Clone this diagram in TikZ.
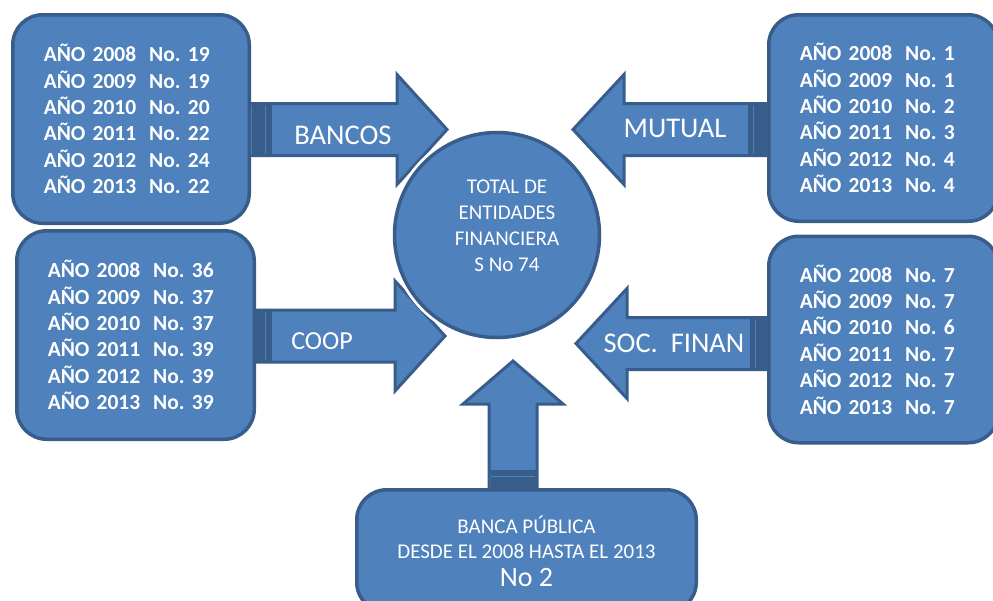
\documentclass[tikz,border=0pt]{standalone}
\usepackage{fontspec}
\setmainfont{Carlito}
\usetikzlibrary{positioning}
\frenchspacing

\definecolor{boxfill}{HTML}{4F81BD}
\definecolor{boxline}{HTML}{385D8A}

% one line of a year box
\newcommand{\fila}[2]{\hspace*{11pt}AÑO #1\hspace{13pt}No. #2}
% horizontal block arrow: start x, head base x, tip x, middle y
\newcommand{\harrow}[4]{%
  \draw [blockarrow] (#1,#4-26) -- (#2,#4-26) -- (#2,#4-55) -- (#3,#4)
    -- (#2,#4+55) -- (#2,#4+26) -- (#1,#4+26) -- cycle;}
% dark band at the foot of a horizontal arrow: x from, x to, light line x, middle y
\newcommand{\hband}[4]{%
  \fill [boxline] (#1,#4-26) rectangle (#2,#4+26);
  \draw [boxfill, line width=0.8pt] (#3,#4-24) -- (#3,#4+24);}

\begin{document}
\begin{tikzpicture}[x=1pt, y=-1pt, line join=miter,
    databox/.style={draw=boxline, fill=boxfill, line width=3.5pt, rounded corners=30pt,
      text=white, align=left, inner xsep=20pt, font=\bfseries\fontsize{21.5}{26.4}\selectfont},
    blockarrow/.style={draw=boxline, fill=boxfill, line width=3pt},
    arrowlabel/.style={text=white, inner sep=0pt, font=\fontsize{28.5}{32}\selectfont},
    hub/.style={circle, draw=boxline, fill=boxfill, line width=3.5pt, minimum size=205pt,
      preaction={draw=white, line width=9pt}}]
    \useasboundingbox (0,0) rectangle (993,600);
    \clip (0,0) rectangle (993,600);

    % Arrows
    \harrow{245}{397}{447}{129.5}
    \harrow{775}{624}{573}{129.5}
    \harrow{245}{395}{445}{336}
    \harrow{775}{627}{576}{343.5}
    \draw [blockarrow] (489,495) -- (489,404) -- (463,404) -- (513,361)
      -- (563,404) -- (537,404) -- (537,495) -- cycle;
    \hband{252}{272}{265}{129.5}
    \hband{748}{767}{753}{129.5}
    \hband{252}{272}{265}{336}
    \hband{750}{767}{755}{343.5}
    \fill [boxline] (490.5,470) rectangle (535.5,490);
    \draw [boxfill, line width=0.8pt] (491,476) -- (535,476);

    % Arrow labels
    \node [arrowlabel] (bancos) at (343,135) {BANCOS};
    \node [arrowlabel] (mutual) at (675,128) {MUTUAL};
    \node [arrowlabel, font=\fontsize{26}{30}\selectfont] (coop) at (322,341) {COOP};
    \node [arrowlabel] (socfinan) at (674,343) {SOC.\ \ FINAN};

    % Year boxes
    \node [databox, text width=196.5pt, minimum height=208.5pt] (bancosbox) at (131,119)
      {\fila{2008}{19}\\\fila{2009}{19}\\\fila{2010}{20}\\\fila{2011}{22}\\\fila{2012}{24}\\\fila{2013}{22}};
    \node [databox, text width=197.5pt, minimum height=208.5pt] (coopbox) at (135.5,335)
      {\fila{2008}{36}\\\fila{2009}{37}\\\fila{2010}{37}\\\fila{2011}{39}\\\fila{2012}{39}\\\fila{2013}{39}};
    \node [databox, text width=189.5pt, minimum height=206.5pt] (mutualbox) at (883.5,118)
      {\fila{2008}{1}\\\fila{2009}{1}\\\fila{2010}{2}\\\fila{2011}{3}\\\fila{2012}{4}\\\fila{2013}{4}};
    \node [databox, text width=189.5pt, minimum height=206.5pt] (socbox) at (883.5,339.5)
      {\fila{2008}{7}\\\fila{2009}{7}\\\fila{2010}{6}\\\fila{2011}{7}\\\fila{2012}{7}\\\fila{2013}{7}};
    \node [databox, align=center, minimum width=339.5pt, minimum height=122.5pt,
      font=\fontsize{21}{25}\selectfont] (publica) at (526.5,551)
      {BANCA PÚBLICA\\DESDE EL 2008 HASTA EL 2013\\[3pt]{\fontsize{28}{30}\selectfont No 2}};

    % Centre
    \node [hub, label={[text=white, align=center, xshift=10pt, yshift=9pt,
      font=\fontsize{21}{26}\selectfont]center:TOTAL DE\\ENTIDADES\\FINANCIERA\\S No 74}]
      (total) at (497,235) {};
\end{tikzpicture}
\end{document}
